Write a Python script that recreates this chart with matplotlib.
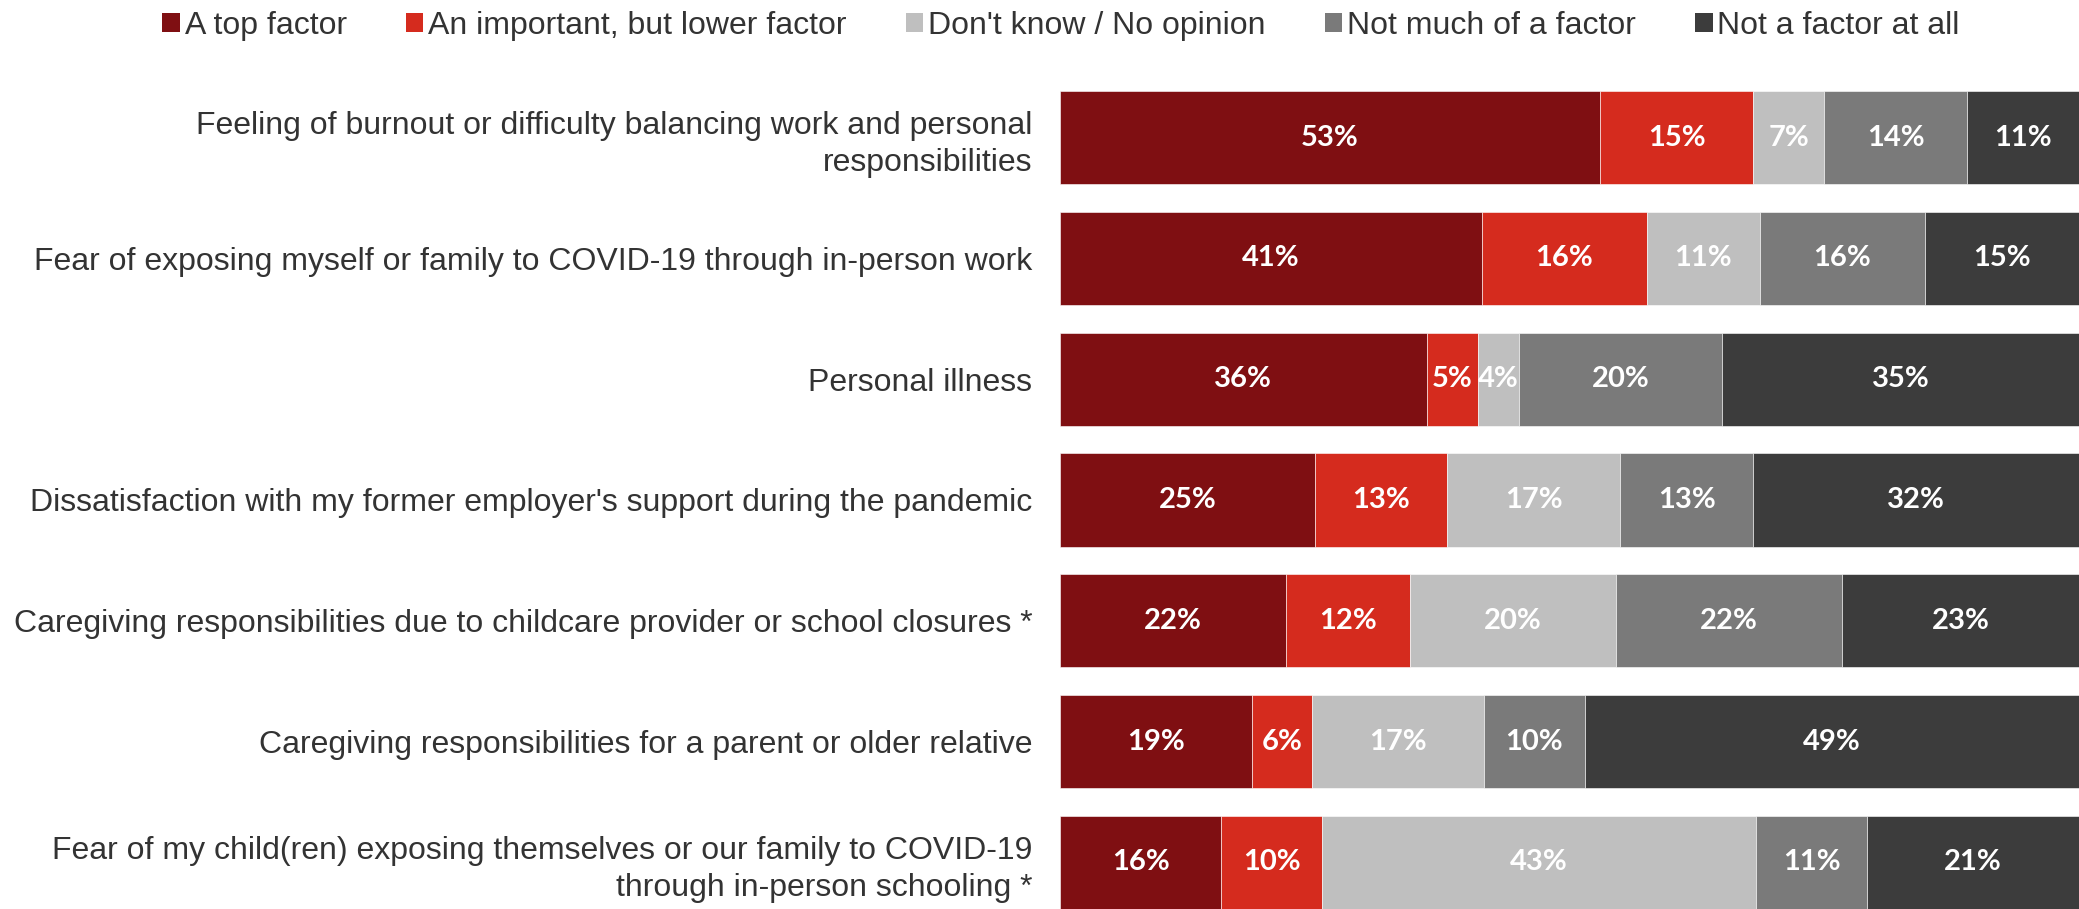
import numpy as np
import matplotlib.pyplot as plt
from matplotlib.patches import Patch

categories = [
    "Feeling of burnout or difficulty balancing work and personal\nresponsibilities",
    "Fear of exposing myself or family to COVID-19 through in-person work",
    "Personal illness",
    "Dissatisfaction with my former employer's support during the pandemic",
    "Caregiving responsibilities due to childcare provider or school closures *",
    "Caregiving responsibilities for a parent or older relative",
    "Fear of my child(ren) exposing themselves or our family to COVID-19\nthrough in-person schooling *",
]
series = ["A top factor", "An important, but lower factor", "Don't know / No opinion",
          "Not much of a factor", "Not a factor at all"]
top_factor = [53, 41, 36, 25, 22, 19, 16]
lower_factor = [15, 16, 5, 13, 12, 6, 10]
dont_know = [7, 11, 4, 17, 20, 17, 43]
not_much = [14, 16, 20, 13, 22, 10, 11]
not_at_all = [11, 15, 35, 32, 23, 49, 21]

colors = ["#7f0f12", "#d52b1e", "#bfbfbf", "#7a7a7a", "#3c3c3c"]

vals = np.array([top_factor, lower_factor, dont_know, not_much, not_at_all], dtype=float)
# rounded shares don't always add to 100, stretch each bar to full width
shares = vals / vals.sum(axis=0) * 100

fig = plt.figure(figsize=(20.79, 9.09), dpi=100)
ax = fig.add_axes([1060 / 2079, 0.0, 1019 / 2079, 1 - 91 / 909])

y = np.arange(len(categories))
left = np.zeros(len(categories))
for i in range(len(series)):
    ax.barh(y, shares[i], left=left, height=0.77, color=colors[i],
            edgecolor="white", linewidth=0.4)
    for j in range(len(categories)):
        ax.text(left[j] + shares[i][j] / 2, y[j], "%d%%" % vals[i][j],
                ha="center", va="center", color="white", fontsize=21,
                fontweight="bold", family="Lato")
    left += shares[i]

ax.set_xlim(0, 100)
ax.set_ylim(len(categories) - 1 + 0.385, -0.385)
ax.set_yticks(y)
ax.set_yticklabels(categories, fontsize=23, color="#333333", family="Liberation Sans",
                   linespacing=1.3)
ax.tick_params(axis="y", length=0, pad=20)
ax.set_xticks([])
for s in ax.spines.values():
    s.set_visible(False)

handles = [Patch(facecolor=c, edgecolor="none") for c in colors]
fig.legend(handles, series, loc="upper center", bbox_to_anchor=(1061 / 2079, 1.02),
           ncol=5, frameon=False, prop={"family": "Liberation Sans", "size": 23},
           handlelength=0.55, handleheight=0.55, handletextpad=0.15, columnspacing=1.85,
           labelcolor="#333333")

plt.savefig("out.png", dpi=100)
